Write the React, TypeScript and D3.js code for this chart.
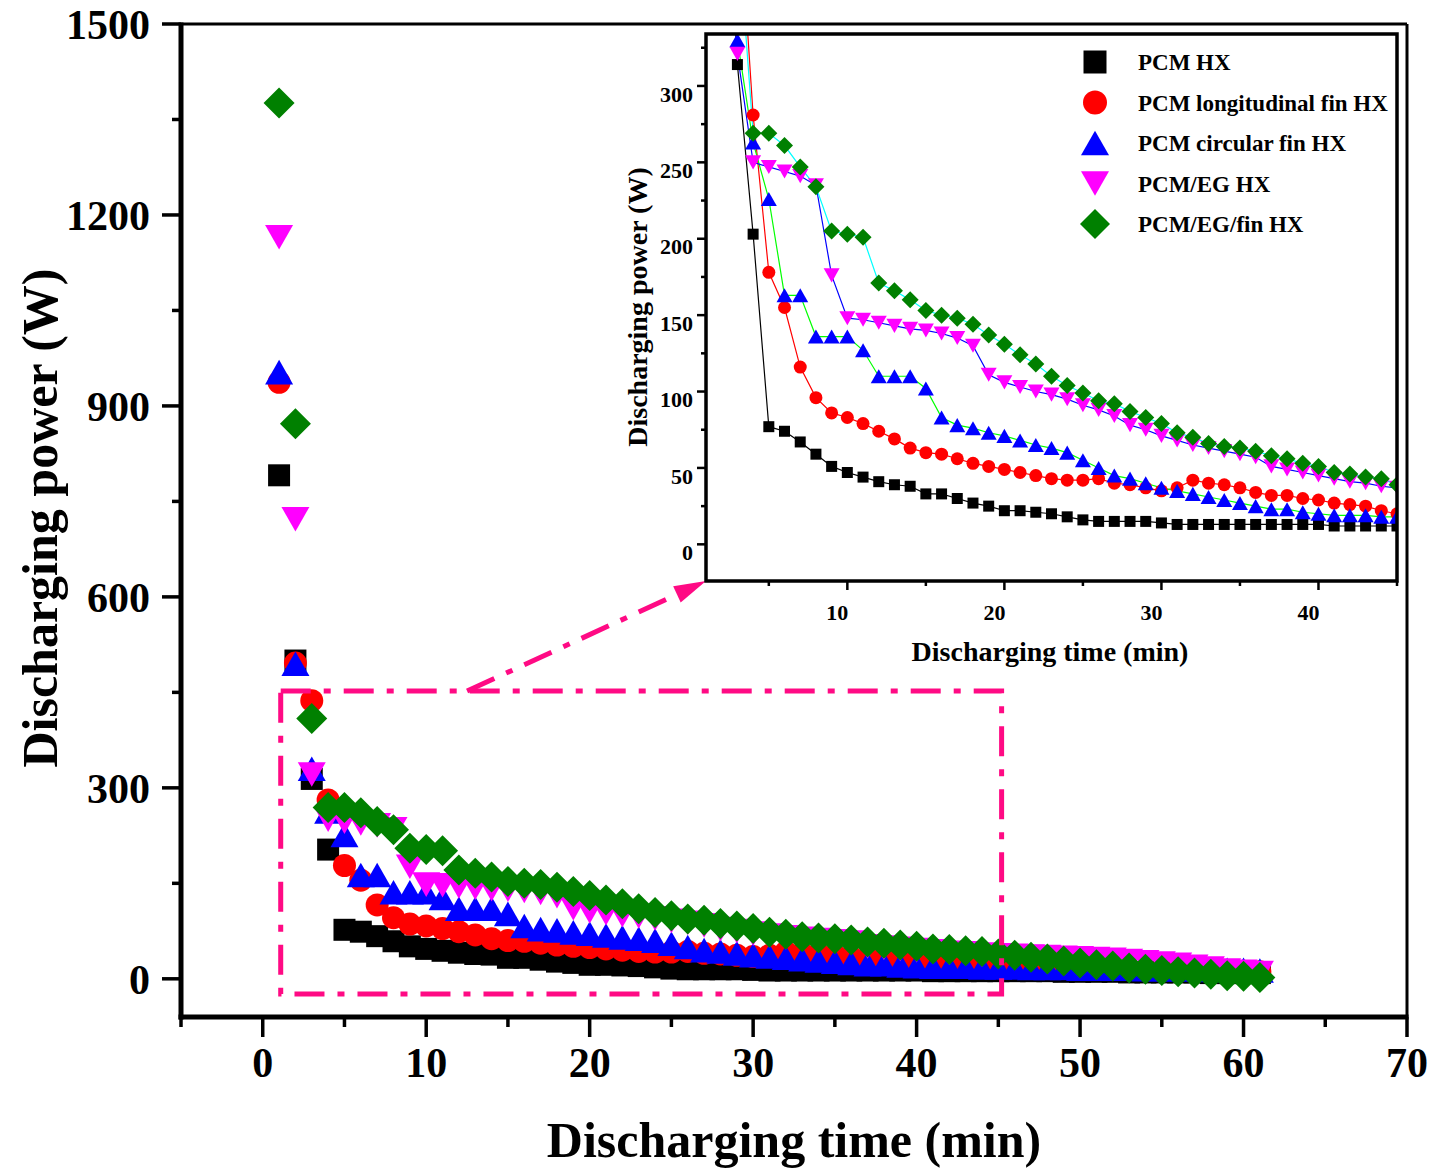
import React from 'react';
import * as d3 from 'd3';

// ---------------- DATA ----------------
const times = [1,2,3,4,5,6,7,8,9,10,11,12,13,14,15,16,17,18,19,20,21,22,23,24,25,26,27,28,29,30,31,32,33,34,35,36,37,38,39,40,41,42,43,44,45,46,47,48,49,50,51,52,53,54,55,56,57,58,59,60,61];

const pcmHX = [791,500,314,203,77,74,67,59,51,47,44,41,39,38,33,33,30,27,25,22,22,21,20,18,16,15,15,15,15,14,13,13,13,13,13,13,13,13,13,13,12,12,12,12,12,12,12,12,11,11,11,11,10,10,10,10,10,9,9,9,9];
const pcmLongFin = [937,496,437,281,178,155,116,96,86,83,79,74,69,63,60,59,56,53,51,49,47,45,43,42,42,43,40,39,37,35,37,42,40,39,37,34,32,32,30,29,27,26,25,22,20,19,18,17,17,16,16,15,15,14,14,13,13,12,12,12,11];
const pcmCircFin = [953,495,330,263,226,163,163,136,136,136,127,110,110,110,102,83,78,76,73,71,68,65,63,60,55,50,45,43,40,37,35,33,31,29,27,25,23,23,21,20,19,19,19,18,18,18,17,17,17,16,16,16,16,15,15,15,15,14,14,14,13];
const pcmEG = [1165,722,321,250,247,244,241,235,176,148,147,145,143,141,140,138,135,130,111,106,103,100,98,95,91,88,84,78,75,71,68,65,63,61,59,57,51,49,47,45,43,41,40,38,37,36,35,34,33,32,31,30,28,26,24,22,19,16,13,11,9];
const pcmEGFin = [1376,872,409,269,269,261,247,234,205,203,201,171,166,160,153,150,148,144,137,131,124,118,110,104,99,94,92,87,83,79,73,70,66,64,63,61,58,56,53,51,47,46,44,43,39,37,34,31,28,25,22,20,17,15,13,11,9,7,5,4,2];

const seriesNames = ['PCM HX', 'PCM longitudinal fin HX', 'PCM circular fin HX', 'PCM/EG HX', 'PCM/EG/fin HX'];
const seriesValues = [pcmHX, pcmLongFin, pcmCircFin, pcmEG, pcmEGFin];
const markerColors = ['#000000', '#ff0000', '#0000ff', '#ff00ff', '#008000'];
const lineColors = ['#000000', '#ff0000', '#00ff00', '#0000ff', '#00ffff'];
const markerShapes = ['square', 'circle', 'triUp', 'triDown', 'diamond'];

const mainXTicks = [0, 10, 20, 30, 40, 50, 60, 70];
const mainXMinor = [-5, 5, 15, 25, 35, 45, 55, 65];
const mainYTicks = [0, 300, 600, 900, 1200, 1500];
const mainYMinor = [150, 450, 750, 1050, 1350];
const insetXTicks = [10, 20, 30, 40];
const insetXMinor = [5, 15, 25, 35, 45];
const insetYTicks = [0, 50, 100, 150, 200, 250, 300];
const insetYMinor = [25, 75, 125, 175, 225, 275, 325];

// zoomed region (data units)
const zoomT = [1.1, 45.2];
const zoomP = [-24, 452];
const arrowStartT = 12.5;

// ---------------- LAYOUT ----------------
const W = 1435, H = 1170;
const M = { left: 181, right: 1407, top: 24, bottom: 1017 };
const I = { left: 706, right: 1397, top: 34, bottom: 581 };
const PINK = '#ff0a84';
const FONT = '"Liberation Serif", "Times New Roman", Times, serif';

const xMain = d3.scaleLinear().domain([-5, 70]).range([M.left, M.right]);
const yMain = d3.scaleLinear().domain([-60, 1500]).range([M.bottom, M.top]);
const xIn = d3.scaleLinear().domain([1, 45]).range([I.left, I.right]);
const yIn = d3.scaleLinear().domain([-24, 334]).range([I.bottom, I.top]);

function markerPath(shape: string, s: number): string {
  const h = s / 2;
  const th = s * 0.88 / 2;
  switch (shape) {
    case 'square': return `M${-h},${-h}H${h}V${h}H${-h}Z`;
    case 'circle': return `M${h},0A${h},${h} 0 1,1 ${-h},0A${h},${h} 0 1,1 ${h},0Z`;
    case 'triUp': return `M0,${-th}L${h},${th}L${-h},${th}Z`;
    case 'triDown': return `M0,${th}L${h},${-th}L${-h},${-th}Z`;
    case 'diamond': return `M0,${-h}L${h},0L0,${h}L${-h},0Z`;
  }
  return '';
}

const mainSizes: Record<string, number> = { square: 22, circle: 23, triUp: 28, triDown: 28, diamond: 31 };
const insetSizes: Record<string, number> = { square: 11, circle: 13, triUp: 16, triDown: 16, diamond: 17 };
const legendSizes: Record<string, number> = { square: 23, circle: 24, triUp: 28, triDown: 28, diamond: 30 };

export default function App() {
  const dash = '30 13 7 13';
  // zoom rectangle
  const rx0 = xMain(zoomT[0]), rx1 = xMain(zoomT[1]);
  const ry0 = yMain(zoomP[1]), ry1 = yMain(zoomP[0]);
  // arrow
  const ax0 = xMain(arrowStartT), ay0 = ry0;
  const tipX = I.left, tipY = I.bottom;
  const dx = tipX - ax0, dy = tipY - ay0;
  const len = Math.hypot(dx, dy);
  const ux = dx / len, uy = dy / len;
  const headLen = 32, headW = 9;
  const bx = tipX - ux * headLen, by = tipY - uy * headLen;
  const px = -uy, py = ux;
  const head = `M${tipX},${tipY}L${bx + px * headW},${by + py * headW}L${bx - px * headW},${by - py * headW}Z`;

  const line = d3.line<number>().x((_, i) => xIn(times[i])).y(d => yIn(d));

  return (
    <svg width={W} height={H} style={{ position: 'absolute', left: 0, top: 0, background: '#fff' }}
      fontFamily={FONT} fontWeight="bold">
      <rect x={0} y={0} width={W} height={H} fill="#fff" />
      <defs>
        <clipPath id="insetClip">
          <rect x={I.left} y={I.top} width={I.right - I.left} height={I.bottom - I.top} />
        </clipPath>
      </defs>

      {/* main markers */}
      {seriesValues.map((vals, si) => (
        <g key={'m' + si} fill={markerColors[si]}>
          {vals.map((v, i) => (
            <path key={i} d={markerPath(markerShapes[si], mainSizes[markerShapes[si]])}
              transform={`translate(${xMain(times[i])},${yMain(v)})`} />
          ))}
        </g>
      ))}

      {/* zoom rectangle and arrow */}
      <rect x={rx0} y={ry0} width={rx1 - rx0} height={ry1 - ry0} fill="none" stroke={PINK}
        strokeWidth={5} strokeDasharray={dash} />
      <line x1={ax0} y1={ay0} x2={bx} y2={by} stroke={PINK} strokeWidth={5} strokeDasharray={dash} />
      <path d={head} fill={PINK} />

      {/* main frame */}
      <line x1={M.left} y1={M.top} x2={M.right} y2={M.top} stroke="#000" strokeWidth={3} />
      <line x1={M.right} y1={M.top} x2={M.right} y2={M.bottom} stroke="#000" strokeWidth={3} />
      <line x1={M.left} y1={M.top - 1.5} x2={M.left} y2={M.bottom + 2.5} stroke="#000" strokeWidth={5} />
      <line x1={M.left - 2.5} y1={M.bottom} x2={M.right + 1.5} y2={M.bottom} stroke="#000" strokeWidth={5} />

      {/* main y ticks */}
      {mainYTicks.map(t => (
        <g key={'yt' + t}>
          <line x1={M.left - 19} x2={M.left} y1={yMain(t)} y2={yMain(t)} stroke="#000" strokeWidth={3.5} />
          <text x={150} y={yMain(t)} dy="0.35em" textAnchor="end" fontSize={42}>{t}</text>
        </g>
      ))}
      {mainYMinor.map(t => (
        <line key={'ym' + t} x1={M.left - 9} x2={M.left} y1={yMain(t)} y2={yMain(t)} stroke="#000" strokeWidth={3.5} />
      ))}
      {/* main x ticks */}
      {mainXTicks.map(t => (
        <g key={'xt' + t}>
          <line x1={xMain(t)} x2={xMain(t)} y1={M.bottom} y2={M.bottom + 20} stroke="#000" strokeWidth={3.5} />
          <text x={xMain(t)} y={1077} textAnchor="middle" fontSize={42}>{t}</text>
        </g>
      ))}
      {mainXMinor.map(t => (
        <line key={'xm' + t} x1={xMain(t)} x2={xMain(t)} y1={M.bottom} y2={M.bottom + 10} stroke="#000" strokeWidth={3.5} />
      ))}
      <text x={(M.left + M.right) / 2 + 0} y={1157} textAnchor="middle" fontSize={50}>Discharging time (min)</text>
      <text transform={`translate(57,518) rotate(-90)`} textAnchor="middle" fontSize={50}>Discharging power (W)</text>

      {/* inset */}
      <rect x={I.left} y={I.top} width={I.right - I.left} height={I.bottom - I.top} fill="#fff" />
      <g clipPath="url(#insetClip)">
        {seriesValues.map((vals, si) => (
          <path key={'l' + si} d={line(vals) || ''} fill="none" stroke={lineColors[si]} strokeWidth={1.2} />
        ))}
        {seriesValues.map((vals, si) => (
          <g key={'im' + si} fill={markerColors[si]}>
            {vals.map((v, i) => (
              <path key={i} d={markerPath(markerShapes[si], insetSizes[markerShapes[si]])}
                transform={`translate(${xIn(times[i])},${yIn(v)})`} />
            ))}
          </g>
        ))}
      </g>
      <rect x={I.left} y={I.top} width={I.right - I.left} height={I.bottom - I.top} fill="none" stroke="#000" strokeWidth={3.5} />
      {insetYTicks.map(t => (
        <g key={'iyt' + t}>
          <line x1={I.left - 9} x2={I.left} y1={yIn(t)} y2={yIn(t)} stroke="#000" strokeWidth={2.5} />
          <text x={I.left - 13} y={yIn(t) + 8} dy="0.35em" textAnchor="end" fontSize={22}>{t}</text>
        </g>
      ))}
      {insetYMinor.map(t => (
        <line key={'iym' + t} x1={I.left - 5} x2={I.left} y1={yIn(t)} y2={yIn(t)} stroke="#000" strokeWidth={2.5} />
      ))}
      {insetXTicks.map(t => (
        <g key={'ixt' + t}>
          <line x1={xIn(t)} x2={xIn(t)} y1={I.bottom} y2={I.bottom + 9} stroke="#000" strokeWidth={2.5} />
          <text x={xIn(t) - 10} y={620} textAnchor="middle" fontSize={22}>{t}</text>
        </g>
      ))}
      {insetXMinor.map(t => (
        <line key={'ixm' + t} x1={xIn(t)} x2={xIn(t)} y1={I.bottom} y2={I.bottom + 5} stroke="#000" strokeWidth={2.5} />
      ))}
      <text x={1050} y={661} textAnchor="middle" fontSize={28}>Discharging time (min)</text>
      <text transform={`translate(647,307) rotate(-90)`} textAnchor="middle" fontSize={28}>Discharging power (W)</text>

      {/* legend */}
      {seriesNames.map((name, si) => {
        const yy = 62 + si * 40.5;
        return (
          <g key={'lg' + si}>
            <path d={markerPath(markerShapes[si], legendSizes[markerShapes[si]])}
              transform={`translate(1095,${yy})`} fill={markerColors[si]} />
            <text x={1138} y={yy} dy="0.35em" fontSize={23}>{name}</text>
          </g>
        );
      })}
    </svg>
  );
}
